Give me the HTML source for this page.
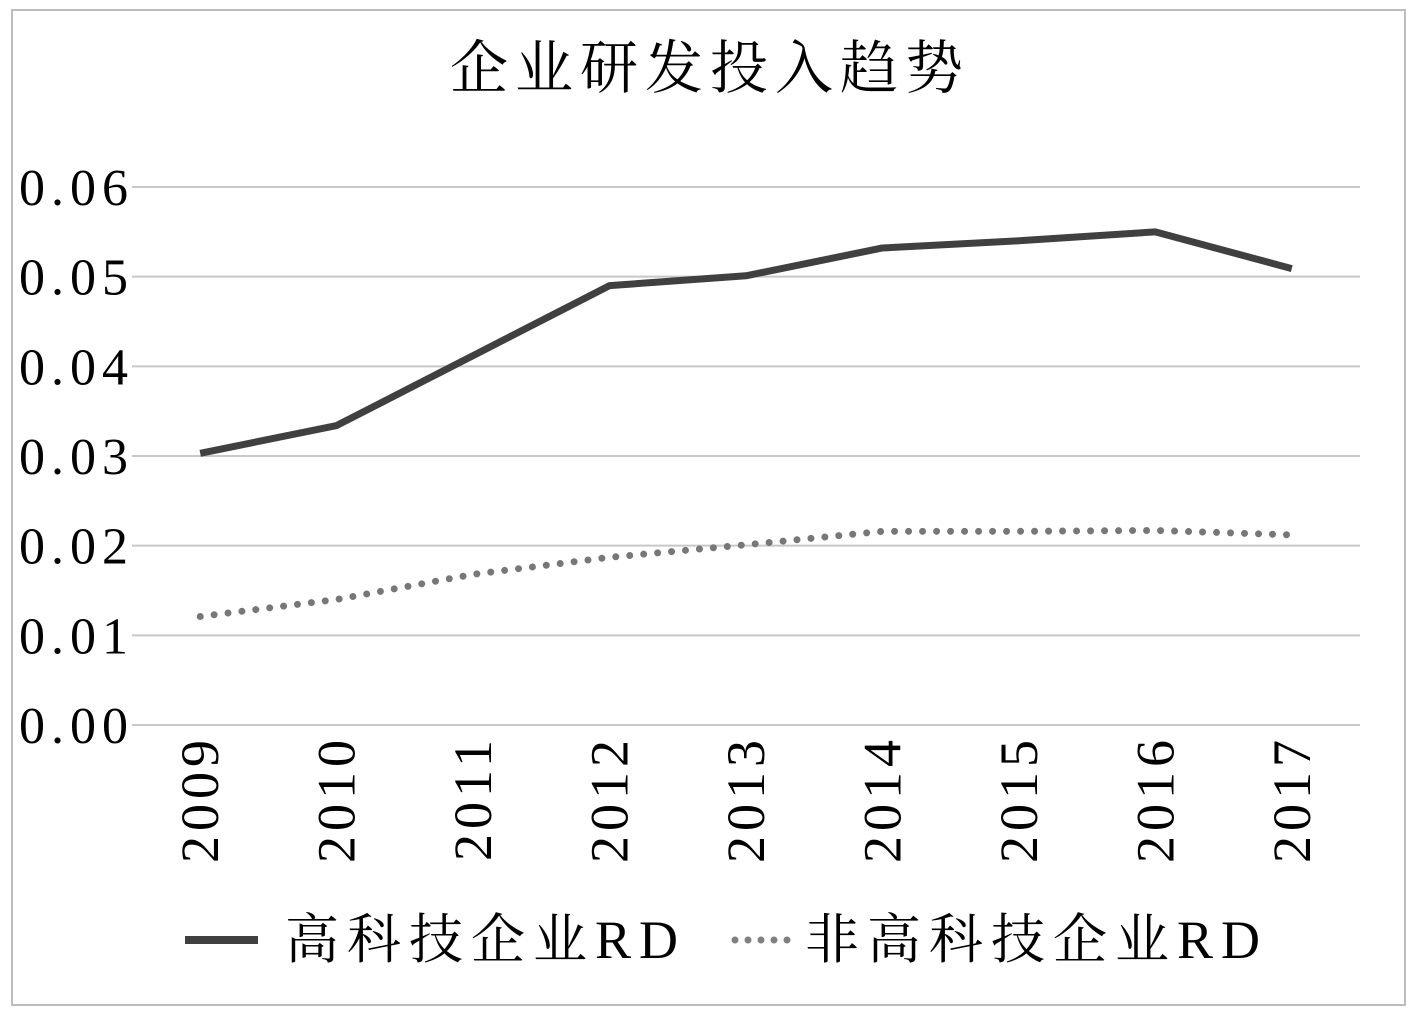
<!DOCTYPE html>
<html><head><meta charset="utf-8">
<style>
body{margin:0;background:#fff;}
svg{display:block;}
text{font-family:"Liberation Serif","Noto Serif CJK SC",serif;fill:#000;}
</style></head>
<body>
<svg id="chart" width="1418" height="1016" viewBox="0 0 1418 1016">
<rect x="12" y="10" width="1393" height="995" fill="#fff" stroke="#bdbdbd" stroke-width="2"/>
<text x="710" y="88" font-size="58" letter-spacing="7" text-anchor="middle">企业研发投入趋势</text>
<g id="grid"></g>
<g id="ylabels"></g>
<g id="xlabels"></g>
<g id="series"></g>
<g>
<line x1="185" y1="940" x2="258" y2="940" stroke="#404040" stroke-width="8"/>
<text x="285" y="958" font-size="54" letter-spacing="8">高科技企业RD</text>
<line x1="735" y1="940" x2="795" y2="940" stroke="#808080" stroke-width="7" stroke-linecap="round" stroke-dasharray="0 13"/>
<text x="805" y="958" font-size="54" letter-spacing="8">非高科技企业RD</text>
</g>
</svg>
<script>
const years = ["2009","2010","2011","2012","2013","2014","2015","2016","2017"];
const highTech = [0.0303,0.0334,0.0412,0.0490,0.0501,0.0532,0.0540,0.0550,0.0509];
const nonHighTech = [0.0121,0.0140,0.0168,0.0187,0.0201,0.0216,0.0216,0.0217,0.0212];
const yTicks = [0,0.01,0.02,0.03,0.04,0.05,0.06];
const yTickLabels = ["0.00","0.01","0.02","0.03","0.04","0.05","0.06"];

const NS="http://www.w3.org/2000/svg";
const left=132,right=1360,y0=725,y6=187,yMax=0.06;
const step=(right-left)/years.length;
function xs(i){return left+step*(i+0.5);}
function ys(v){return y0-(y0-y6)*v/yMax;}
function mk(tag,attrs,parent){const e=document.createElementNS(NS,tag);for(const k in attrs)e.setAttribute(k,attrs[k]);parent.appendChild(e);return e;}

const grid=document.getElementById('grid'), yl=document.getElementById('ylabels'), xl=document.getElementById('xlabels'), ser=document.getElementById('series');
yTicks.forEach((t,i)=>{
  const l=mk('line',{x1:left,x2:right,y1:ys(t),y2:ys(t),stroke:'#c8c8c8','stroke-width':2},grid);
  
  
  const tx=mk('text',{x:134,y:ys(t)+18,'font-size':52,'letter-spacing':6,'text-anchor':'end'},yl);
  tx.textContent=yTickLabels[i];
  
  
});
years.forEach((yr,i)=>{
  const x=xs(i)+18;
  const tx=mk('text',{x:x,y:735,'font-size':54,'letter-spacing':5,'text-anchor':'end',transform:'rotate(-90 '+x+' 735)'},xl);
  tx.textContent=yr;
  
  
});
function pts(arr){return arr.map((v,i)=>xs(i)+','+ys(v)).join(' ');}
const p1=mk('polyline',{points:pts(highTech),fill:'none',stroke:'#404040','stroke-width':7,'stroke-linejoin':'round'},ser);


const p2=mk('polyline',{points:pts(nonHighTech),fill:'none',stroke:'#777','stroke-width':7,'stroke-linecap':'round','stroke-dasharray':'0 14'},ser);


</script>
</body></html>
